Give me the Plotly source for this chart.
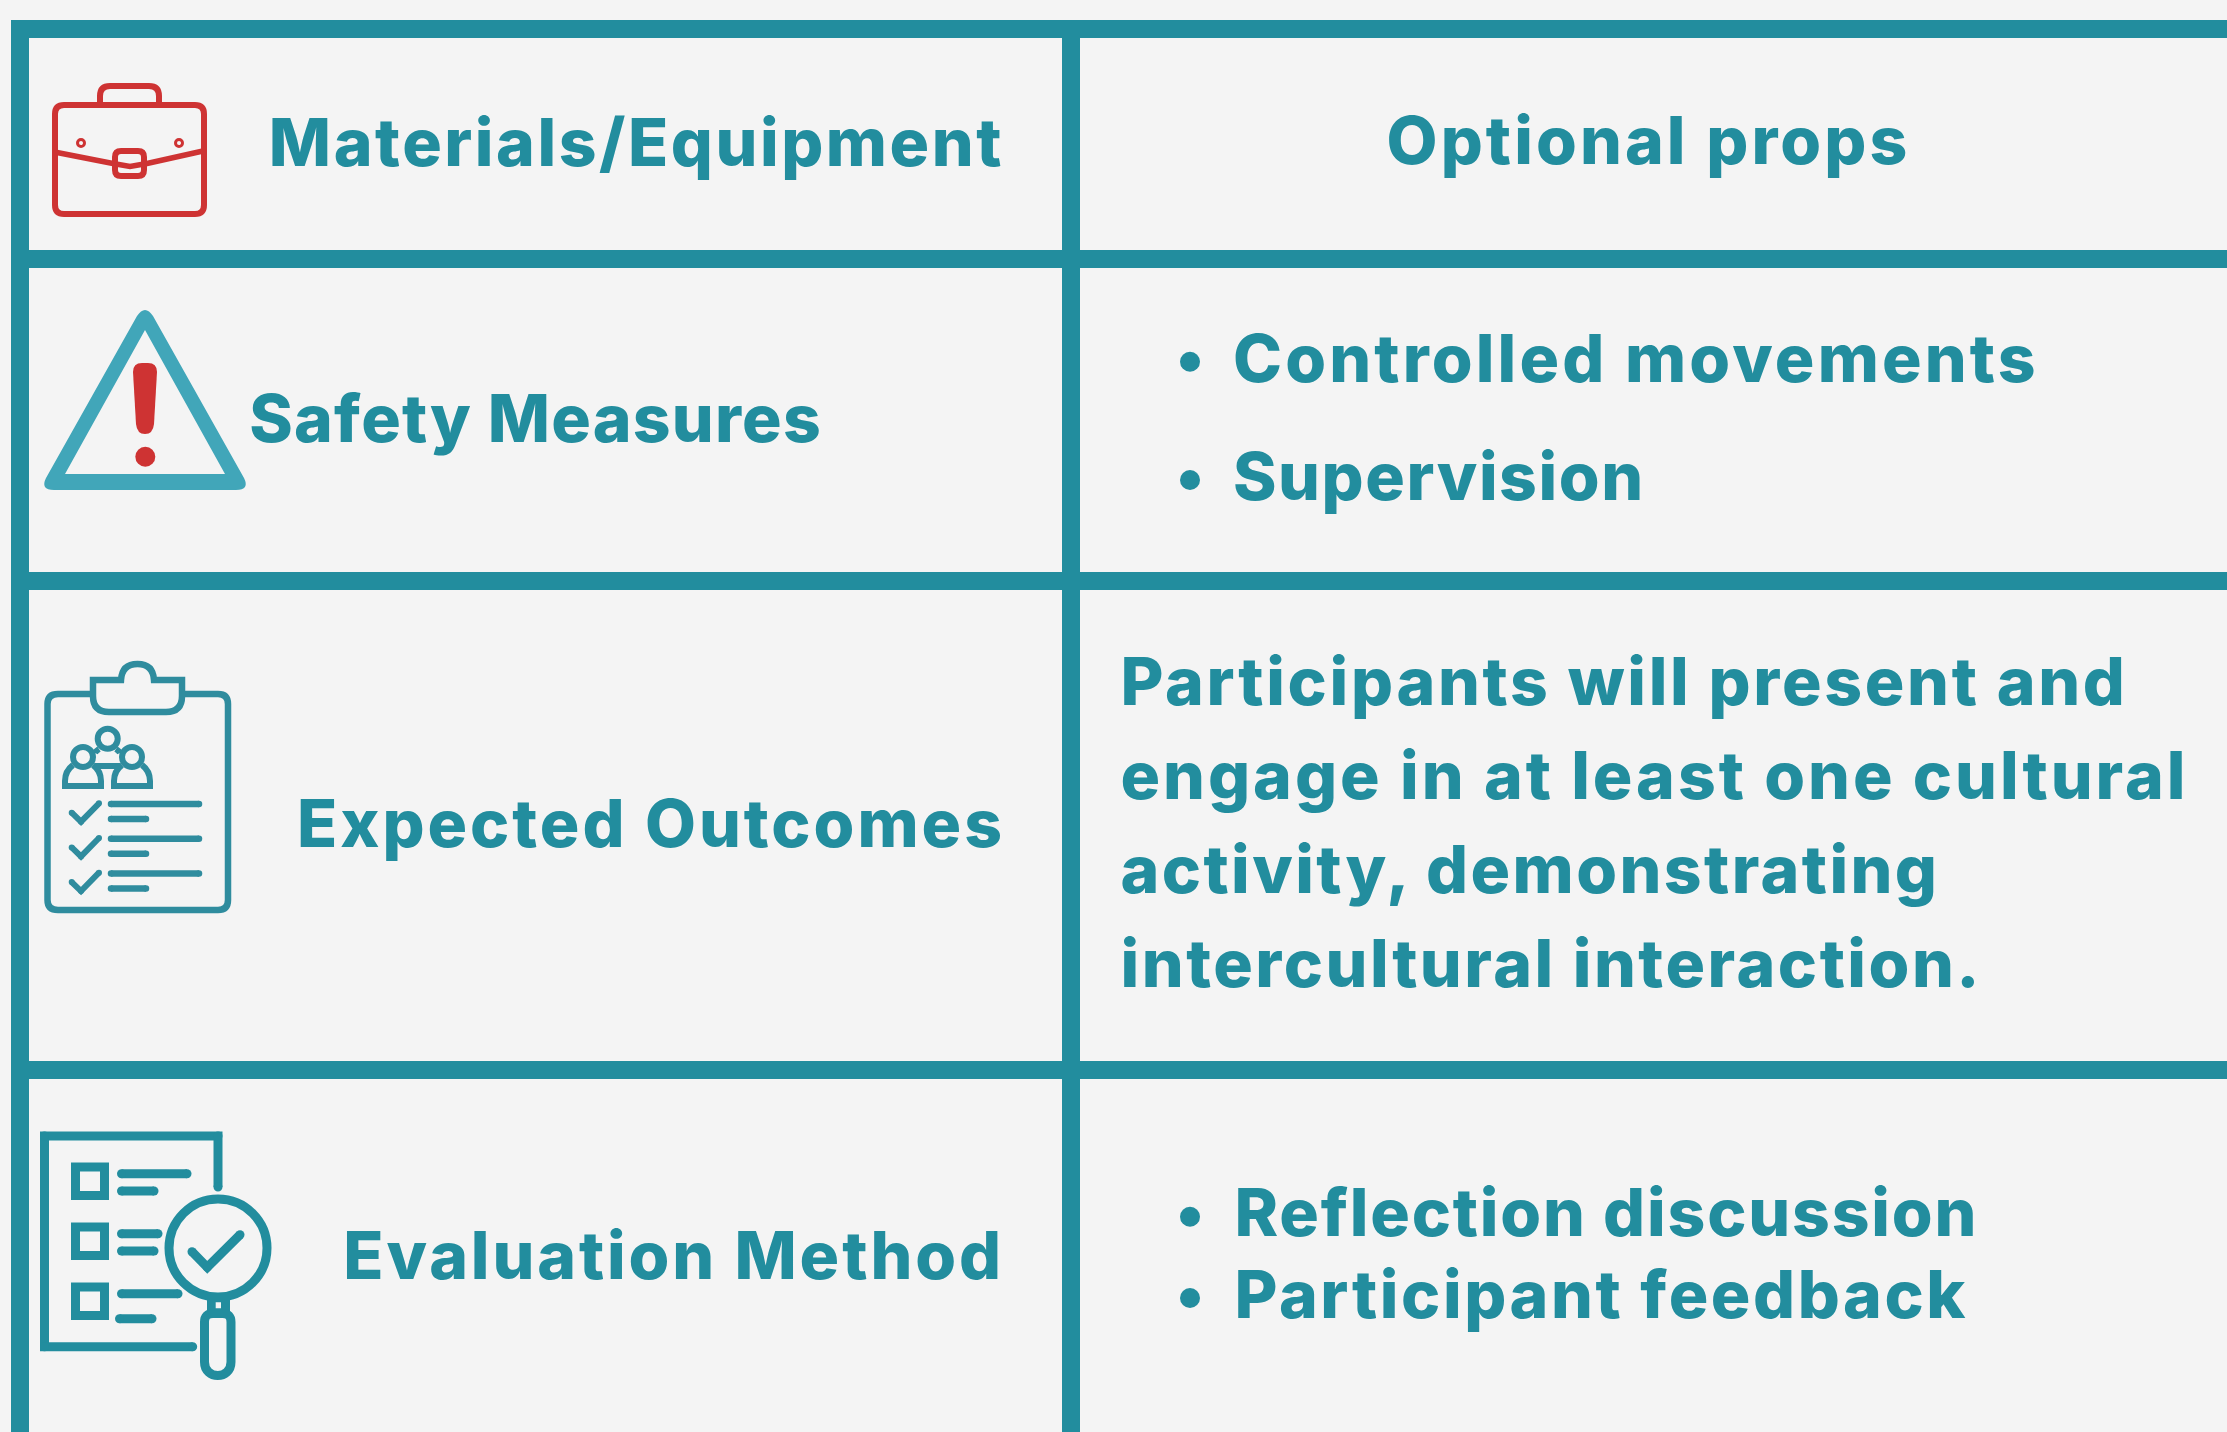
import json
import plotly.graph_objects as go

# ---- content -------------------------------------------------------------
left_labels = ["Materials/Equipment", "Safety Measures", "Expected Outcomes", "Evaluation Method"]
right_plain = ["Optional props"]
safety_items = ["Controlled movements", "Supervision"]
outcome_lines = ["Participants will present and", "engage in at least one cultural",
                 "activity, demonstrating", "intercultural interaction."]
evaluation_items = ["Reflection discussion", "Participant feedback"]

# ---- layout constants ----------------------------------------------------
W, H = 2227, 1432
BG = "#F4F4F4"
TEAL = "#228D9E"
TEAL2 = "#2F8C9E"
LIGHT = "#41A6B9"
RED = "#CE3333"
FONT = "Inter"
WEIGHT = 800
SZ = 66
CAP = 0.26

# letter spacing (px) that widens the installed face to the reference's set width
spacing = {
    left_labels[0]: 2.55, left_labels[1]: 1.23, left_labels[2]: 2.97, left_labels[3]: 2.88,
    right_plain[0]: 3.1, safety_items[0]: 3.15, safety_items[1]: 1.55,
    evaluation_items[0]: 1.83, evaluation_items[1]: 2.58,
    outcome_lines[0]: 2.69, outcome_lines[1]: 2.95, outcome_lines[2]: 2.42, outcome_lines[3]: 2.51,
}

shapes = []

def rect(x0, y0, x1, y1, c=TEAL):
    shapes.append(dict(type="rect", x0=x0, x1=x1, y0=y0, y1=y1, fillcolor=c, line_width=0, layer="below"))

def circle(cx, cy, r, fill=None, line=None, w=0):
    shapes.append(dict(type="circle", x0=cx-r, x1=cx+r, y0=cy-r, y1=cy+r,
                       fillcolor=fill or "rgba(0,0,0,0)", line=dict(color=line or "rgba(0,0,0,0)", width=w), layer="below"))

def path(d, line=None, w=0, fill=None):
    shapes.append(dict(type="path", path=d, fillcolor=fill or "rgba(0,0,0,0)",
                       line=dict(color=line or "rgba(0,0,0,0)", width=w), layer="below"))

def stroke(pts, w, c):
    """Polyline with round caps and joints."""
    path("M" + " L".join(f"{x},{y}" for x, y in pts), line=c, w=w)
    for x, y in pts:
        circle(x, y, w/2, fill=c)

def rrect(x0, y0, x1, y1, r):
    return (f"M{x0+r},{y0} H{x1-r} Q{x1},{y0} {x1},{y0+r} V{y1-r} Q{x1},{y1} {x1-r},{y1} "
            f"H{x0+r} Q{x0},{y1} {x0},{y1-r} V{y0+r} Q{x0},{y0} {x0+r},{y0} Z")

# grid
for y0 in (20, 250, 572, 1061):
    rect(11, y0, W, y0+18)
rect(11, 20, 29, H)
rect(1062, 20, 1080, H)

# briefcase
path(rrect(55, 105, 204, 214, 9), line=RED, w=6)
path("M100,105 V96 Q100,86 110,86 H149 Q159,86 159,96 V105", line=RED, w=6)
circle(81, 143, 3.5, line=RED, w=3)
circle(179, 143, 3.5, line=RED, w=3)
path("M57,152.5 L113,163.5 L130,166.5 L147,163.5 L203,151", line=RED, w=5.5)
path(rrect(115, 151, 144, 176, 6), line=RED, w=6)

# warning triangle
path("M137,316 Q145,304 153,316 L244,478 Q250,490 236,490 L54,490 Q40,490 46,478 Z "
     "M145,330 L225,474 L65,474 Z", fill=LIGHT)
path("M133,372 Q133,363 142,363 H148 Q157,363 157,372 L154,424 Q153,434 145,434 Q137,434 136,424 Z", fill=RED)
circle(145.3, 456.7, 10, fill=RED)

# clipboard
cb = TEAL2
path("M90,694 H58 Q47.5,694 47.5,704 V900 Q47.5,910 58,910 H218 Q228,910 228,900 V704 Q228,694 218,694 H185", line=cb, w=6.5)
path("M93,680 H121 Q122,664 137.5,664 Q153,664 154,680 H182 V696 Q182,712 166,712 H109 Q93,712 93,696 Z", line=cb, w=6.5)
for cx, cy in ((107.7, 738.7), (83, 757), (132, 757)):
    circle(cx, cy, 10, line=cb, w=6)
for dx in (0, 49):
    path(f"M{73+dx},765 Q{65+dx},771 {65+dx},781 V786 H{101+dx} V781 Q{101+dx},771 {93+dx},765", line=cb, w=6)
path("M116,749 Q119,751 120,753 M99,749 Q96,751 95,753 M95,766 H120", line=cb, w=6)
for i in range(3):
    d = 34.7 * i
    stroke([(71.7, 812.7+d), (81, 821.7+d), (99, 803.3+d)], 6, cb)
    stroke([(111, 804+d), (199, 804+d)], 6.5, cb)
    stroke([(111, 819+d), (146, 819+d)], 6.5, cb)

# evaluation icon
ev = TEAL
stroke([(218, 1187), (218, 1136), (44.5, 1136), (44.5, 1346.7), (192.7, 1346.7)], 9, ev)
for i in range(3):
    d = 60 * i
    path(f"M75.5,{1167+d} H104.5 V{1195.5+d} H75.5 Z", line=ev, w=9)
stroke([(121.5, 1173.7), (187, 1173.7)], 9, ev)
stroke([(121.5, 1191), (154, 1191)], 9, ev)
stroke([(121.5, 1233.7), (158, 1233.7)], 9, ev)
stroke([(121.5, 1251), (154, 1251)], 9, ev)
stroke([(121.5, 1293.7), (178, 1293.7)], 9, ev)
stroke([(119.5, 1318.7), (152, 1318.7)], 9, ev)
circle(218, 1248, 49, line=ev, w=9)
stroke([(192, 1251.7), (207.3, 1267.3), (240, 1234.7)], 9, ev)
path("M207,1300 H230 V1311 H207 Z M215.7,1302.3 H221 V1308.3 H215.7 Z", fill=ev)
path("M204.5,1322 Q204.5,1313.5 213,1313.5 H222.5 Q231,1313.5 231,1322 V1362 C231,1380 204.5,1380 204.5,1362 Z", line=ev, w=9)

# ---- text ----------------------------------------------------------------
fig = go.Figure()

def text(s, x, baseline, anchor):
    pos = {"left": "middle right", "right": "middle left", "center": "middle center"}[anchor]
    fig.add_trace(go.Scatter(x=[x], y=[baseline - CAP*SZ], mode="text", text=[s], textposition=pos,
                             textfont=dict(family=FONT, size=SZ, color=TEAL, weight=WEIGHT),
                             hoverinfo="skip", showlegend=False, cliponaxis=False))

text(left_labels[0], 1004, 166.8, "right")
text(left_labels[1], 822, 442.2, "right")
text(left_labels[2], 1005, 848, "right")
text(left_labels[3], 1004, 1279.5, "right")
text(right_plain[0], 1648.5, 164.5, "center")
text(safety_items[0], 1233, 382.2, "left")
text(safety_items[1], 1233, 500.5, "left")
for s, b in zip(outcome_lines, (706, 800, 894, 988)):
    text(s, 1120.5, b, "left")
text(evaluation_items[0], 1234.5, 1237, "left")
text(evaluation_items[1], 1234.5, 1319, "left")
for y in (361.7, 480, 1216.7, 1298):
    circle(1190, y, 10, fill=TEAL)

fig.update_layout(width=W, height=H, margin=dict(l=0, r=0, t=0, b=0),
                  paper_bgcolor=BG, plot_bgcolor=BG, shapes=shapes, showlegend=False,
                  xaxis=dict(range=[0, W], visible=False, fixedrange=True),
                  yaxis=dict(range=[H, 0], visible=False, fixedrange=True))
post = ("document.body.style.margin='0';document.body.style.overflow='hidden';"
        "document.body.style.background='#F4F4F4';"
        "var ls=" + json.dumps(spacing) + ";"
        "document.querySelectorAll('.textpoint text').forEach(function(t){"
        "var v=ls[t.textContent];if(v!==undefined){t.style.letterSpacing=v+'px';}});")
fig.write_html("out.html", config=dict(displayModeBar=False), post_script=post)
